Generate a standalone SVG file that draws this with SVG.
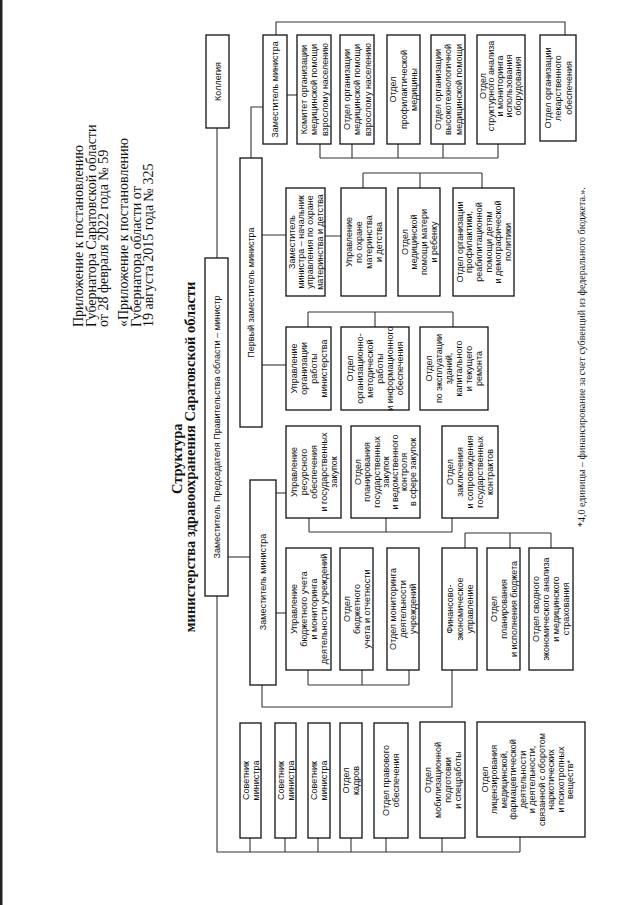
<svg xmlns="http://www.w3.org/2000/svg" width="640" height="905" viewBox="0 0 640 905">
<style>
.box{fill:#fff;stroke:#111;stroke-width:1.3}
.ln{fill:none;stroke:#333;stroke-width:1.1}
.t{font-family:'Liberation Sans',Arial,sans-serif;font-size:9px;fill:#111;text-anchor:middle}
.h{font-family:'Liberation Serif','Times New Roman',serif;font-size:14px;fill:#111}
.ti{font-family:'Liberation Serif','Times New Roman',serif;font-size:14.5px;font-weight:bold;fill:#111;text-anchor:middle}
.fn{font-family:'Liberation Serif','Times New Roman',serif;font-size:10px;fill:#111}
</style>
<rect x="0" y="0" width="640" height="905" fill="#fff"/>
<rect x="0" y="0" width="2.5" height="905" fill="#222"/>
<g id="header">
<text class="h" transform="rotate(-90)">
<tspan x="-327" y="83">Приложение к постановлению</tspan>
<tspan x="-327" y="95.5">Губернатора Саратовской области</tspan>
<tspan x="-327" y="108">от 28 февраля 2022 года № 59</tspan>
<tspan x="-327" y="128">«Приложение к постановлению</tspan>
<tspan x="-327" y="140.5">Губернатора области от</tspan>
<tspan x="-327" y="153">19 августа 2015 года № 325</tspan>
</text>
</g>
<g id="title">
<text class="ti" transform="rotate(-90)">
<tspan x="-457" y="181.5">Структура</tspan>
<tspan x="-457" y="195">министерства здравоохранения Саратовской области</tspan>
</text>
</g>
<g id="footnote">
<text class="fn" transform="rotate(-90)" x="-527" y="585">*4,0 единицы – финансирование за счет субвенций из федерального бюджета.».</text>
</g>
<g id="connectors">
<path class="ln" d="M217,128V258"/>
<path class="ln" d="M217,596V852H520"/>
<path class="ln" d="M250,852V838M285,852V838M318,852V838M351,852V838M386,852V838M442,852V838M520,852V837"/>
<path class="ln" d="M276,35V22H565V35"/>
<path class="ln" d="M287,95H297"/>
<path class="ln" d="M320,158H498M320,158V144M352,158V144M398,158V144M443,158V144M498,158V144"/>
<path class="ln" d="M263,107H251V158"/>
<path class="ln" d="M262,235H286M325,236H341"/>
<path class="ln" d="M363,173H482M363,173V188M420,173V188M482,173V188"/>
<path class="ln" d="M262,365H286"/>
<path class="ln" d="M308,312H453M308,312V327M375,312V327M453,312V327"/>
<path class="ln" d="M228,557H250"/>
<path class="ln" d="M276,493H286"/>
<path class="ln" d="M309,532H452M309,532V518M386,532V518M452,532V518"/>
<path class="ln" d="M276,613H286"/>
<path class="ln" d="M308,685H409M308,685V670M362,685V670M409,685V670"/>
<path class="ln" d="M262,685V707H452V670"/>
<path class="ln" d="M465,533H551M465,533V548M510,533V548M551,533V548"/>
</g>
<g id="kollegiya"><rect class="box" x="206" y="35" width="23" height="93"/>
<text class="t" transform="rotate(-90)"><tspan x="-81.5" y="220.7">Коллегия</tspan></text></g>
<g id="minister"><rect class="box" x="205" y="258" width="23" height="338"/>
<text class="t" transform="rotate(-90)"><tspan x="-427" y="219.7">Заместитель Председателя Правительства области – министр</tspan></text></g>
<g id="zam-top"><rect class="box" x="263" y="35" width="24" height="109"/>
<text class="t" transform="rotate(-90)"><tspan x="-89.5" y="278.2">Заместитель министра</tspan></text></g>
<g id="komitet"><rect class="box" x="297" y="35" width="34" height="109"/>
<text class="t" transform="rotate(-90)"><tspan x="-89.5" y="306.7">Комитет организации</tspan><tspan x="-89.5" y="317.2">медицинской помощи</tspan><tspan x="-89.5" y="327.7">взрослому населению</tspan></text></g>
<g id="otdel-vzr"><rect class="box" x="340" y="35" width="34" height="109"/>
<text class="t" transform="rotate(-90)"><tspan x="-89.5" y="349.7">Отдел организации</tspan><tspan x="-89.5" y="360.2">медицинской помощи</tspan><tspan x="-89.5" y="370.7">взрослому населению</tspan></text></g>
<g id="otdel-prof"><rect class="box" x="387" y="35" width="33" height="109"/>
<text class="t" transform="rotate(-90)"><tspan x="-89.5" y="396.2">Отдел</tspan><tspan x="-89.5" y="406.7">профилактической</tspan><tspan x="-89.5" y="417.2">медицины</tspan></text></g>
<g id="otdel-vmp"><rect class="box" x="431" y="35" width="34" height="109"/>
<text class="t" transform="rotate(-90)"><tspan x="-89.5" y="440.7">Отдел организации</tspan><tspan x="-89.5" y="451.2">высокотехнологичной</tspan><tspan x="-89.5" y="461.7">медицинской помощи</tspan></text></g>
<g id="otdel-struct"><rect class="box" x="477" y="35" width="48" height="109"/>
<text class="t" transform="rotate(-90)"><tspan x="-86" y="485.6">Отдел</tspan><tspan x="-86" y="494.4">структурного анализа</tspan><tspan x="-86" y="503.2">и мониторинга</tspan><tspan x="-86" y="512">использования</tspan><tspan x="-86" y="520.8">оборудования</tspan></text></g>
<g id="otdel-lek"><rect class="box" x="540" y="35" width="36" height="106"/>
<text class="t" transform="rotate(-90)"><tspan x="-88" y="550.7">Отдел организации</tspan><tspan x="-88" y="561.2">лекарственного</tspan><tspan x="-88" y="571.7">обеспечения</tspan></text></g>
<g id="perviy-zam"><rect class="box" x="240" y="158" width="22" height="269"/>
<text class="t" transform="rotate(-90)"><tspan x="-292.5" y="254.2">Первый заместитель министра</tspan></text></g>
<g id="zam-nach"><rect class="box" x="286" y="188" width="39" height="108"/>
<text class="t" transform="rotate(-90)"><tspan x="-242" y="294.9">Заместитель</tspan><tspan x="-242" y="304.1">министра – начальник</tspan><tspan x="-242" y="313.3">управления по охране</tspan><tspan x="-242" y="322.5">материнства и детства</tspan></text></g>
<g id="upr-ohrana"><rect class="box" x="341" y="188" width="45" height="108"/>
<text class="t" transform="rotate(-90)"><tspan x="-242" y="351.7">Управление</tspan><tspan x="-242" y="361.7">по охране</tspan><tspan x="-242" y="371.7">материнства</tspan><tspan x="-242" y="381.7">и детства</tspan></text></g>
<g id="otdel-mat"><rect class="box" x="398" y="188" width="42" height="108"/>
<text class="t" transform="rotate(-90)"><tspan x="-242" y="407.5">Отдел</tspan><tspan x="-242" y="417.3">медицинской</tspan><tspan x="-242" y="427.1">помощи матери</tspan><tspan x="-242" y="436.9">и ребенку</tspan></text></g>
<g id="otdel-reab"><rect class="box" x="453" y="188" width="61" height="108"/>
<text class="t" transform="rotate(-90)"><tspan x="-242" y="462.7">Отдел организации</tspan><tspan x="-242" y="472.3">профилактики,</tspan><tspan x="-242" y="481.9">реабилитационной</tspan><tspan x="-242" y="491.5">помощи детям</tspan><tspan x="-242" y="501.1">и демографической</tspan><tspan x="-242" y="510.7">политики</tspan></text></g>
<g id="upr-org"><rect class="box" x="286" y="327" width="45" height="83"/>
<text class="t" transform="rotate(-90)"><tspan x="-368.5" y="296.7">Управление</tspan><tspan x="-368.5" y="306.7">организации</tspan><tspan x="-368.5" y="316.7">работы</tspan><tspan x="-368.5" y="326.7">министерства</tspan></text></g>
<g id="otdel-orgmet"><rect class="box" x="341" y="327" width="68" height="83"/>
<text class="t" transform="rotate(-90)"><tspan x="-368.5" y="353.2">Отдел</tspan><tspan x="-368.5" y="363.2">организационно-</tspan><tspan x="-368.5" y="373.2">методической</tspan><tspan x="-368.5" y="383.2">работы</tspan><tspan x="-368.5" y="393.2">и информационного</tspan><tspan x="-368.5" y="403.2">обеспечения</tspan></text></g>
<g id="otdel-expl"><rect class="box" x="420" y="327" width="68" height="83"/>
<text class="t" transform="rotate(-90)"><tspan x="-368.5" y="432.2">Отдел</tspan><tspan x="-368.5" y="442.2">по эксплуатации</tspan><tspan x="-368.5" y="452.2">зданий,</tspan><tspan x="-368.5" y="462.2">капитального</tspan><tspan x="-368.5" y="472.2">и текущего</tspan><tspan x="-368.5" y="482.2">ремонта</tspan></text></g>
<g id="zam-mid"><rect class="box" x="250" y="480" width="26" height="205"/>
<text class="t" transform="rotate(-90)"><tspan x="-582" y="266.2">Заместитель министра</tspan></text></g>
<g id="upr-res"><rect class="box" x="286" y="426" width="55" height="92"/>
<text class="t" transform="rotate(-90)"><tspan x="-472" y="296.7">Управление</tspan><tspan x="-472" y="306.7">ресурсного</tspan><tspan x="-472" y="316.7">обеспечения</tspan><tspan x="-472" y="326.7">и государственных</tspan><tspan x="-472" y="336.7">закупок</tspan></text></g>
<g id="otdel-plan-zak"><rect class="box" x="351" y="426" width="69" height="92"/>
<text class="t" transform="rotate(-90)"><tspan x="-472" y="361.1">Отдел</tspan><tspan x="-472" y="370.3">планирования</tspan><tspan x="-472" y="379.5">государственных</tspan><tspan x="-472" y="388.7">закупок</tspan><tspan x="-472" y="397.9">и ведомственного</tspan><tspan x="-472" y="407.1">контроля</tspan><tspan x="-472" y="416.3">в сфере закупок</tspan></text></g>
<g id="otdel-zakl"><rect class="box" x="442" y="426" width="56" height="92"/>
<text class="t" transform="rotate(-90)"><tspan x="-472" y="453.2">Отдел</tspan><tspan x="-472" y="463.2">заключения</tspan><tspan x="-472" y="473.2">и сопровождения</tspan><tspan x="-472" y="483.2">государственных</tspan><tspan x="-472" y="493.2">контрактов</tspan></text></g>
<g id="upr-buh"><rect class="box" x="286" y="548" width="45" height="122"/>
<text class="t" transform="rotate(-90)"><tspan x="-609" y="296.7">Управление</tspan><tspan x="-609" y="306.7">бюджетного учета</tspan><tspan x="-609" y="316.7">и мониторинга</tspan><tspan x="-609" y="326.7">деятельности учреждений</tspan></text></g>
<g id="otdel-buh"><rect class="box" x="340" y="548" width="33" height="122"/>
<text class="t" transform="rotate(-90)"><tspan x="-609" y="349.7">Отдел</tspan><tspan x="-609" y="359.7">бюджетного</tspan><tspan x="-609" y="369.7">учета и отчетности</tspan></text></g>
<g id="otdel-mon"><rect class="box" x="387" y="548" width="32" height="122"/>
<text class="t" transform="rotate(-90)"><tspan x="-609" y="396.2">Отдел мониторинга</tspan><tspan x="-609" y="406.2">деятельности</tspan><tspan x="-609" y="416.2">учреждений</tspan></text></g>
<g id="fin-upr"><rect class="box" x="442" y="548" width="35" height="122"/>
<text class="t" transform="rotate(-90)"><tspan x="-609" y="452.7">Финансово-</tspan><tspan x="-609" y="462.7">экономическое</tspan><tspan x="-609" y="472.7">управление</tspan></text></g>
<g id="otdel-budget"><rect class="box" x="487" y="548" width="33" height="122"/>
<text class="t" transform="rotate(-90)"><tspan x="-609" y="496.7">Отдел</tspan><tspan x="-609" y="506.7">планирования</tspan><tspan x="-609" y="516.7">и исполнения бюджета</tspan></text></g>
<g id="otdel-svod"><rect class="box" x="529" y="548" width="44" height="122"/>
<text class="t" transform="rotate(-90)"><tspan x="-609" y="539.2">Отдел сводного</tspan><tspan x="-609" y="549.2">экономического анализа</tspan><tspan x="-609" y="559.2">и медицинского</tspan><tspan x="-609" y="569.2">страхования</tspan></text></g>
<g id="sovetnik-1"><rect class="box" x="240" y="723" width="21" height="115"/>
<text class="t" transform="rotate(-90)"><tspan x="-780.5" y="248.7">Советник</tspan><tspan x="-780.5" y="258.7">министра</tspan></text></g>
<g id="sovetnik-2"><rect class="box" x="275" y="723" width="21" height="115"/>
<text class="t" transform="rotate(-90)"><tspan x="-780.5" y="283.7">Советник</tspan><tspan x="-780.5" y="293.7">министра</tspan></text></g>
<g id="sovetnik-3"><rect class="box" x="308" y="723" width="22" height="115"/>
<text class="t" transform="rotate(-90)"><tspan x="-780.5" y="317.2">Советник</tspan><tspan x="-780.5" y="327.2">министра</tspan></text></g>
<g id="otdel-kadrov"><rect class="box" x="340" y="723" width="22" height="115"/>
<text class="t" transform="rotate(-90)"><tspan x="-780.5" y="349.2">Отдел</tspan><tspan x="-780.5" y="359.2">кадров</tspan></text></g>
<g id="otdel-prav"><rect class="box" x="374" y="723" width="34" height="115"/>
<text class="t" transform="rotate(-90)"><tspan x="-780.5" y="389.2">Отдел правового</tspan><tspan x="-780.5" y="399.2">обеспечения</tspan></text></g>
<g id="otdel-mob"><rect class="box" x="420" y="722" width="45" height="116"/>
<text class="t" transform="rotate(-90)"><tspan x="-780" y="430.7">Отдел</tspan><tspan x="-780" y="440.7">мобилизационной</tspan><tspan x="-780" y="450.7">подготовки</tspan><tspan x="-780" y="460.7">и спецработы</tspan></text></g>
<g id="otdel-lic"><rect class="box" x="477" y="722" width="108" height="115"/>
<text class="t" transform="rotate(-90)"><tspan x="-779.5" y="487.5">Отдел</tspan><tspan x="-779.5" y="497">лицензирования</tspan><tspan x="-779.5" y="506.5">медицинской,</tspan><tspan x="-779.5" y="516">фармацевтической</tspan><tspan x="-779.5" y="525.5">деятельности</tspan><tspan x="-779.5" y="535">и деятельности,</tspan><tspan x="-779.5" y="544.5">связанной с оборотом</tspan><tspan x="-779.5" y="554">наркотических</tspan><tspan x="-779.5" y="563.5">и психотропных</tspan><tspan x="-779.5" y="573">веществ*</tspan></text></g>
</svg>
